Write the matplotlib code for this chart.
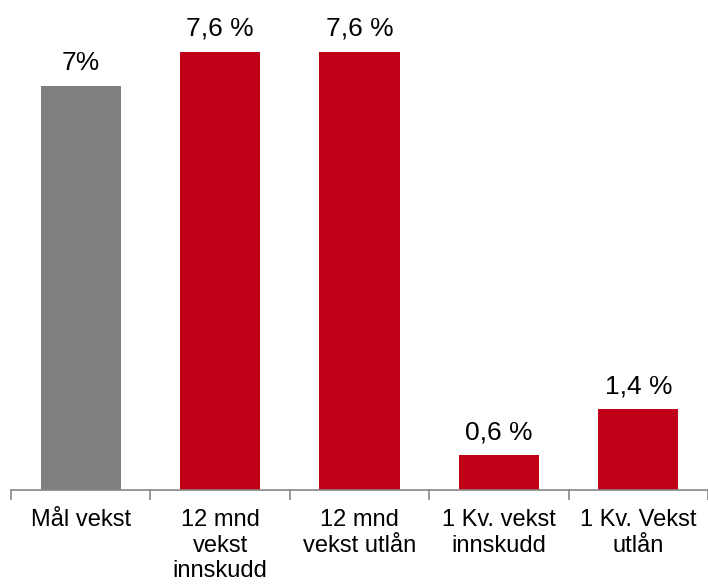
import numpy as np
import matplotlib
matplotlib.use('Agg')
import matplotlib.pyplot as plt

matplotlib.rc('font', family=['Liberation Sans', 'DejaVu Sans'], size=17)

categories = ['Mål vekst', '12 mnd\nvekst\ninnskudd', '12 mnd\nvekst utlån',
              '1 Kv. vekst\ninnskudd', '1 Kv. Vekst\nutlån']
values = [7.0, 7.6, 7.6, 0.6, 1.4]
value_labels = ['7%', '7,6 %', '7,6 %', '0,6 %', '1,4 %']
colors = ['#808080', '#C00016', '#C00016', '#C00016', '#C00016']

fig = plt.figure(figsize=(7.08, 5.84), dpi=100)
ax = fig.add_axes([11 / 708, 94 / 584, 697 / 708, 490 / 584])

ind = np.arange(len(values))
rects = ax.bar(ind, values, 0.575, color=colors)

for rect, lab in zip(rects, value_labels):
    ax.annotate(lab, (rect.get_x() + rect.get_width() / 2., rect.get_height()),
                xytext=(0, 8), textcoords='offset points',
                ha='center', va='bottom', fontsize=19)

ax.set_xlim(-0.5, len(values) - 0.5)
ax.set_ylim(0, 8.5)
ax.set_yticks([])
for side in ['top', 'right', 'left']:
    ax.spines[side].set_visible(False)
ax.spines['bottom'].set_color('#868686')
ax.spines['bottom'].set_linewidth(1.2)

# ticks between categories, labels at centers
ax.set_xticks(np.arange(-0.5, len(values)), minor=False)
ax.set_xticklabels([''] * (len(values) + 1))
ax.tick_params(axis='x', length=7, width=1.2, color='#868686')
ax.set_xticks(ind, minor=True)
ax.set_xticklabels(categories, minor=True, va='top', linespacing=1.2)
ax.tick_params(axis='x', which='minor', length=0, pad=14)

fig.savefig('out.png', dpi=100)
